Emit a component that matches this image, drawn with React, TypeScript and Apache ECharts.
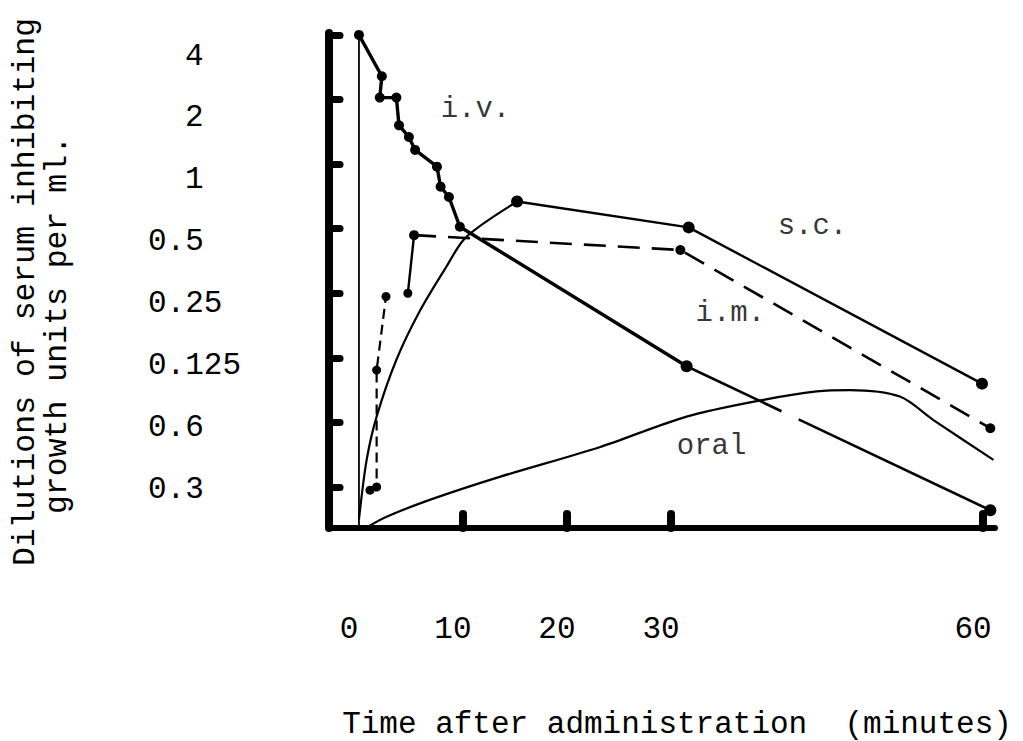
import React, { useEffect, useRef } from "react";
import * as echarts from "echarts";

const FONT = '"Liberation Mono", "DejaVu Sans Mono", monospace';

// Axis ticks and labels
const xLabelValues = [0, 10, 20, 30, 60];
const xTickValues = [10, 20, 30, 60];
const yLevels = [1, 2, 3, 4, 5, 6, 7, 8];
const yLabels = ["0.3", "0.6", "0.125", "0.25", "0.5", "1", "2", "4"];

// i.v. (time in minutes, dilution step on the chart's scale)
const ivDropTime = [0, 0];
const ivDropLevel = [8.0, 0.37];
const ivTime = [0, 2.2, 2.0, 3.6, 3.85, 4.8, 5.4, 7.5, 7.85, 8.65, 9.7, 31.5];
const ivLevel = [8.0, 7.36, 7.03, 7.03, 6.6, 6.42, 6.22, 5.96, 5.65, 5.49, 5.03, 2.87];
const ivTailTime = [31.5, 60.7];
const ivTailLevel = [2.87, 0.64];

// s.c.
const scRiseTime = [0, 0.74, 1.7, 3.6, 5.9, 8.4, 10.3, 15.2];
const scRiseLevel = [0.5, 1.42, 2.09, 2.97, 3.74, 4.41, 4.87, 5.42];
const scFallTime = [15.2, 31.7, 59.9];
const scFallLevel = [5.42, 5.02, 2.6];

// i.m.
const imRiseTime = [1.06, 1.7, 1.7, 2.6];
const imRiseLevel = [0.95, 1.0, 2.81, 3.95];
const imJumpTime = [4.7, 5.3];
const imJumpLevel = [4.0, 4.9];
const imFallTime = [5.3, 30.9, 60.7];
const imFallLevel = [4.9, 4.67, 1.91];

// oral
const oralTime = [0.9, 2.66, 6.8, 13.6, 23.2, 31.5, 38.9, 44.0, 47.2, 52.0, 55.2, 61.0];
const oralLevel = [0.39, 0.54, 0.8, 1.16, 1.62, 2.09, 2.35, 2.48, 2.5, 2.4, 2.04, 1.42];

// curve names placed in the plot
const curveNames = ["i.v.", "s.c.", "i.m.", "oral"];
const curveNameTime = [11.2, 43.6, 35.7, 33.9];
const curveNameLevel = [6.85, 5.03, 3.69, 1.62];

const pairs = (xs: number[], ys: number[]) => xs.map((x, i) => [x, ys[i]]);

export default function App() {
  const ref = useRef<HTMLDivElement>(null);
  useEffect(() => {
    if (!ref.current) return;
    const chart = echarts.init(ref.current, null, { renderer: "svg" });
    const black = "#000";
    const line = (data: number[][], opts: any) => ({
      type: "line",
      data,
      symbol: "circle",
      symbolSize: 9,
      itemStyle: { color: black },
      lineStyle: { color: black, width: 2.4 },
      silent: true,
      z: 3,
      ...opts,
    });
    chart.setOption({
      animation: false,
      backgroundColor: "#fff",
      grid: { left: 329, top: 33, right: 28, bottom: 213, containLabel: false },
      xAxis: {
        type: "value",
        min: -2.88,
        max: 61.15,
        splitLine: { show: false },
        axisLine: { onZero: false, lineStyle: { color: black, width: 6, cap: "round" } },
        axisTick: {
          customValues: xTickValues,
          inside: true,
          length: 14,
          lineStyle: { color: black, width: 8, cap: "round" },
        },
        axisLabel: {
          customValues: xLabelValues,
          formatter: (v: number) => String(v),
          fontFamily: FONT,
          fontSize: 31,
          color: black,
          margin: 86,
          padding: [0, 20, 0, 0],
        },
      },
      yAxis: [
        {
          type: "value",
          min: 0.365,
          max: 8.03,
          splitLine: { show: false },
          axisLine: { onZero: false, lineStyle: { color: black, width: 8, cap: "round" } },
          axisTick: {
            customValues: yLevels,
            inside: true,
            length: 11,
            lineStyle: { color: black, width: 7, cap: "round" },
          },
          axisLabel: { show: false },
        },
        {
          type: "value",
          position: "left",
          min: 0.37,
          max: 8.372,
          splitLine: { show: false },
          axisLine: { show: false },
          axisTick: { show: false },
          axisLabel: {
            customValues: yLevels,
            align: "left",
            margin: 181,
            formatter: (v: number) => {
              const s = yLabels[yLevels.indexOf(v)];
              return s.indexOf(".") >= 0 ? `{d|${s}}` : `{n|${s}}`;
            },
            rich: {
              d: { fontFamily: FONT, fontSize: 31, color: black },
              n: { fontFamily: FONT, fontSize: 31, color: black, padding: [0, 0, 0, 37] },
            },
          },
        },
      ],
      graphic: [
        {
          type: "text",
          x: 25,
          y: 292,
          rotation: Math.PI / 2,
          style: {
            text: "Dilutions of serum inhibiting",
            font: `31.5px ${FONT}`,
            fill: black,
            textAlign: "center",
            textVerticalAlign: "middle",
          },
        },
        {
          type: "text",
          x: 57,
          y: 325,
          rotation: Math.PI / 2,
          style: {
            text: "growth units per ml.",
            font: `31.5px ${FONT}`,
            fill: black,
            textAlign: "center",
            textVerticalAlign: "middle",
          },
        },
        {
          type: "text",
          x: 677,
          y: 724,
          style: {
            text: "Time after administration  (minutes)",
            font: `31px ${FONT}`,
            fill: black,
            textAlign: "center",
            textVerticalAlign: "middle",
          },
        },
      ],
      series: [
        line(pairs(ivDropTime, ivDropLevel), { symbol: "none", lineStyle: { color: black, width: 1.8 } }),
        line(pairs(ivTime, ivLevel), { symbolSize: 10, lineStyle: { color: black, width: 3.4 } }),
        line(pairs(ivTailTime, ivTailLevel), {
          symbolSize: 12,
          lineStyle: { color: black, width: 2.6, type: [105, 19, 400] },
        }),
        line(pairs(scRiseTime, scRiseLevel), {
          symbol: "none",
          smooth: 0.3,
          lineStyle: { color: black, width: 2.2 },
        }),
        line(pairs(scFallTime, scFallLevel), { symbolSize: 12, lineStyle: { color: black, width: 2.4 } }),
        line(pairs(imRiseTime, imRiseLevel), {
          symbolSize: 9,
          lineStyle: { color: black, width: 2.2, type: [10, 6] },
        }),
        line(pairs(imJumpTime, imJumpLevel), { symbolSize: 9, lineStyle: { color: black, width: 2.4 } }),
        line(pairs(imFallTime, imFallLevel), {
          symbolSize: 10,
          lineStyle: { color: black, width: 2.6, type: [22, 12] },
        }),
        line(pairs(oralTime, oralLevel), {
          symbol: "none",
          smooth: 0.3,
          lineStyle: { color: black, width: 2.2 },
        }),
        {
          type: "scatter",
          symbolSize: 0,
          silent: true,
          data: curveNames.map((n, i) => ({ name: n, value: [curveNameTime[i], curveNameLevel[i]] })),
          label: {
            show: true,
            position: "inside",
            formatter: (p: any) => p.name,
            fontFamily: FONT,
            fontSize: 29,
            color: black,
          },
        },
      ],
    });
    return () => chart.dispose();
  }, []);
  return (
    <div
      ref={ref}
      style={{ position: "fixed", left: 0, top: 0, width: 1023, height: 741, background: "#fff" }}
    />
  );
}
